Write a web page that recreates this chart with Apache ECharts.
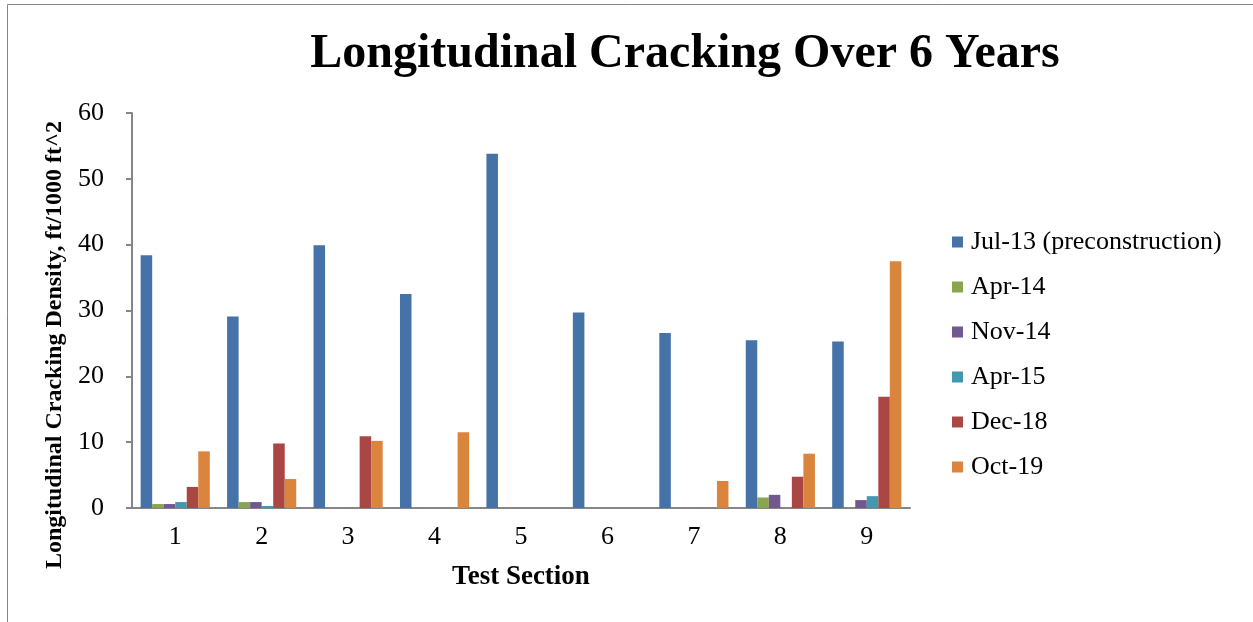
<!DOCTYPE html>
<html>
<head>
<meta charset="utf-8">
<script src="https://cdn.jsdelivr.net/npm/echarts@6/dist/echarts.min.js"></script>
<style>
html,body{margin:0;padding:0;background:#fff;}
#chart{width:1253px;height:622px;}
</style>
</head>
<body>
<div id="chart"></div>
<script>
var categories = ['1','2','3','4','5','6','7','8','9'];
var seriesNames = ['Jul-13 (preconstruction)','Apr-14','Nov-14','Apr-15','Dec-18','Oct-19'];
var jul13 = [38.4, 29.1, 39.9, 32.5, 53.8, 29.7, 26.6, 25.5, 25.3];
var apr14 = [0.6, 0.9, 0, 0, 0, 0, 0, 1.6, 0];
var nov14 = [0.6, 0.9, 0, 0, 0, 0, 0, 2.0, 1.2];
var apr15 = [0.9, 0.3, 0, 0, 0, 0, 0, 0, 1.8];
var dec18 = [3.2, 9.8, 10.9, 0, 0, 0, 0, 4.75, 16.9];
var oct19 = [8.6, 4.4, 10.2, 11.5, 0, 0, 4.1, 8.25, 37.5];
var yTicks = [0, 10, 20, 30, 40, 50, 60];
var colors = ['#4572A7','#89A54E','#71588F','#4198AF','#AA4643','#DB843D'];

var allData = [jul13, apr14, nov14, apr15, dec18, oct19];
var font = 'Liberation Serif, Times New Roman, serif';

var chart = echarts.init(document.getElementById('chart'));
chart.setOption({
  animation: false,
  color: colors,
  title: {
    text: 'Longitudinal Cracking Over 6 Years',
    left: 680, textAlign: 'center', top: 26,
    textStyle: {fontFamily: font, fontWeight: 'bold', fontSize: 48, color: '#000'}
  },
  graphic: [{
    type: 'rect', silent: true,
    shape: {x: 7.5, y: 4.5, width: 1400, height: 800},
    style: {fill: 'none', stroke: '#868686', lineWidth: 1}
  }],
  legend: {
    orient: 'vertical', left: 952, top: 229, padding: 0,
    itemWidth: 11, itemHeight: 11, itemGap: 19,
    icon: 'rect',
    textStyle: {fontFamily: font, fontSize: 26, color: '#000', lineHeight: 26, padding: [0,0,0,3]},
    data: seriesNames
  },
  grid: {left: 132, right: 343, top: 113, bottom: 114, containLabel: false},
  xAxis: {
    type: 'category', data: categories,
    name: 'Test Section', nameLocation: 'middle', nameGap: 56,
    nameTextStyle: {fontFamily: font, fontWeight: 'bold', fontSize: 27, color: '#000'},
    axisLine: {lineStyle: {color: '#868686', width: 2}},
    axisTick: {length: 6, lineStyle: {color: '#868686', width: 2}},
    axisLabel: {fontFamily: font, fontSize: 26, color: '#000', margin: 16}
  },
  yAxis: {
    type: 'value', min: 0, max: 60, interval: 10,
    name: 'Longitudinal Cracking Density, ft/1000 ft^2', nameLocation: 'middle', nameGap: 65,
    nameTextStyle: {fontFamily: font, fontWeight: 'bold', fontSize: 24, color: '#000', padding: [0, 69, 0, 0]},
    axisLine: {show: true, lineStyle: {color: '#868686', width: 2}},
    axisTick: {show: true, length: 6, lineStyle: {color: '#868686', width: 2}},
    splitLine: {show: false},
    axisLabel: {fontFamily: font, fontSize: 26, color: '#000', margin: 28,
      formatter: function (v) { return yTicks.indexOf(v) >= 0 ? String(v) : ''; }}
  },
  series: seriesNames.map(function (n, i) {
    return {
      name: n, type: 'bar', data: allData[i],
      barGap: '0%', barCategoryGap: '20%',
      itemStyle: {color: colors[i]}
    };
  })
});
</script>
</body>
</html>
